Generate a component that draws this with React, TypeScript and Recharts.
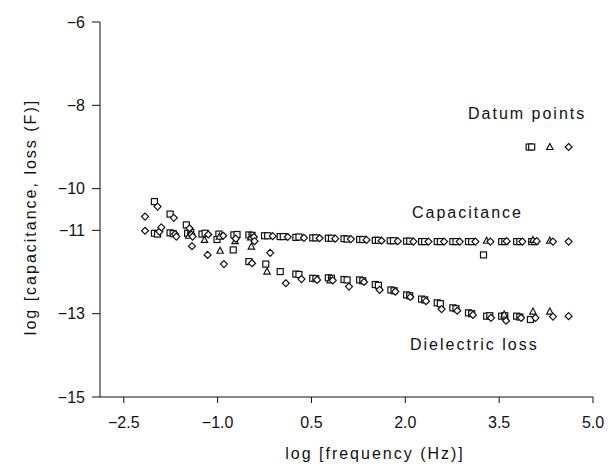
import React from 'react';
import { ScatterChart, Scatter, XAxis, YAxis } from 'recharts';

// log frequency (Hz) vs log capacitance / dielectric loss (F)
const xTicks = [-2.5, -1.0, 0.5, 2.0, 3.5, 5.0];
const yTicks = [-6, -8, -10, -11, -13, -15];

const capSquare: [number, number][] = [
  [-2.01, -11.07], [-1.76, -11.06], [-1.48, -11.07], [-1.25, -11.09], [-0.98, -11.09],
  [-0.74, -11.11], [-0.5, -11.11], [-0.25, -11.13], [0.0, -11.15], [0.25, -11.17],
  [0.52, -11.18], [0.77, -11.19], [1.02, -11.2], [1.27, -11.22], [1.52, -11.24],
  [1.76, -11.25], [2.02, -11.26], [2.26, -11.27], [2.51, -11.27], [2.76, -11.27],
  [3.01, -11.27], [3.25, -11.59], [3.54, -11.27], [3.78, -11.27], [4.02, -11.27],
];
const capSquare2: [number, number][] = [
  [-1.96, -11.09], [-1.71, -11.08], [-1.43, -11.05], [-1.2, -11.07], [-1.01, -11.22],
  [-0.69, -11.1], [-0.45, -11.12], [-0.2, -11.13], [0.05, -11.15], [0.3, -11.16],
  [0.57, -11.18], [0.82, -11.19], [1.07, -11.21], [1.32, -11.22], [1.57, -11.24],
  [1.81, -11.25], [2.07, -11.26], [2.31, -11.27], [2.56, -11.27], [2.81, -11.27],
  [3.06, -11.27], [3.59, -11.27], [3.83, -11.27], [4.07, -11.27],
];
const capTriangle: [number, number][] = [
  [-1.46, -11.13], [-1.21, -11.23], [-0.97, -11.15], [-0.72, -11.26], [-0.47, -11.17],
  [3.3, -11.25], [4.04, -11.23], [4.31, -11.25],
];
const capDiamond: [number, number][] = [
  [-2.16, -11.01], [-1.93, -11.03], [-1.9, -10.93], [-1.68, -11.09], [-1.66, -11.15],
  [-1.42, -11.1], [-1.4, -11.15], [-1.15, -11.1], [-0.91, -11.13], [-0.71, -11.2],
  [-0.42, -11.16], [-0.41, -11.26], [-0.12, -11.14], [0.12, -11.16], [0.38, -11.18],
  [0.63, -11.19], [0.88, -11.2], [1.13, -11.21], [1.38, -11.23], [1.62, -11.25],
  [1.88, -11.26], [2.13, -11.27], [2.37, -11.27], [2.62, -11.27], [2.87, -11.27],
  [3.12, -11.27], [3.36, -11.27], [3.62, -11.26], [3.87, -11.27], [4.1, -11.26],
  [4.36, -11.27], [4.61, -11.27],
];

const lossSquare: [number, number][] = [
  [-2.01, -10.31], [-1.76, -10.61], [-1.5, -10.87], [-0.75, -11.47], [-0.5, -11.75],
  [-0.23, -11.81], [0.0, -11.99], [0.25, -12.05], [0.52, -12.15], [0.77, -12.14],
  [1.02, -12.18], [1.27, -12.19], [1.52, -12.3], [1.77, -12.43], [2.02, -12.55],
  [2.26, -12.65], [2.51, -12.74], [2.76, -12.86], [3.01, -12.98], [3.3, -13.06],
  [3.54, -13.06], [3.78, -13.06], [4.0, -13.14],
];
const lossSquare2: [number, number][] = [
  [0.3, -12.06], [0.57, -12.16], [0.82, -12.15], [1.07, -12.19], [1.32, -12.21],
  [1.57, -12.32], [1.82, -12.45], [2.07, -12.57], [2.31, -12.67], [2.56, -12.76],
  [2.81, -12.88], [3.06, -13.0], [3.35, -13.05], [3.59, -13.05], [3.83, -13.08],
];
const lossTriangle: [number, number][] = [
  [-0.96, -11.49], [-0.46, -11.39], [-0.21, -11.99], [0.8, -12.2], [3.58, -13.02],
  [4.04, -12.95], [4.31, -12.95],
];
const lossDiamond: [number, number][] = [
  [-2.16, -10.67], [-1.96, -10.43], [-1.7, -10.7], [-1.45, -10.95], [-1.41, -11.38],
  [-1.16, -11.59], [-0.9, -11.81], [-0.45, -11.79], [-0.16, -11.54], [0.09, -12.27],
  [0.34, -12.17], [0.59, -12.19], [0.84, -12.2], [1.1, -12.35], [1.34, -12.24],
  [1.59, -12.43], [1.84, -12.47], [2.08, -12.6], [2.33, -12.7], [2.58, -12.89],
  [2.83, -12.93], [3.08, -13.03], [3.37, -13.1], [3.61, -13.17], [3.85, -13.1],
  [4.08, -13.1], [4.36, -13.07], [4.61, -13.06],
];

const datumSquare: [number, number][] = [[3.98, -9], [4.02, -9]];
const datumTriangle: [number, number][] = [[4.31, -9]];
const datumDiamond: [number, number][] = [[4.61, -9]];

const INK = '#111';
const FONT = '"Liberation Sans", Arial, sans-serif';

const pts = (arr: [number, number][]) => arr.map(([x, y]) => ({ x, y }));

const squareShape = (p: any) => (
  <rect x={p.cx - 3} y={p.cy - 3} width={6} height={6} fill="#fff" stroke={INK} strokeWidth={1.2} />
);
const triangleShape = (p: any) => (
  <path
    d={`M${p.cx},${p.cy - 3.5}L${p.cx + 3.2},${p.cy + 2.5}L${p.cx - 3.2},${p.cy + 2.5}Z`}
    fill="#fff"
    stroke={INK}
    strokeWidth={1.2}
  />
);
const diamondShape = (p: any) => (
  <path
    d={`M${p.cx},${p.cy - 3.5}L${p.cx + 3.5},${p.cy}L${p.cx},${p.cy + 3.5}L${p.cx - 3.5},${p.cy}Z`}
    fill="#fff"
    stroke={INK}
    strokeWidth={1.2}
  />
);

const fmtX = (v: number) => (v < 0 ? '\u2212' + Math.abs(v).toFixed(1) : v.toFixed(1));
const fmtY = (v: number) => (v < 0 ? '\u2212' + Math.abs(v) : String(v));

const squares = [...capSquare, ...capSquare2, ...lossSquare, ...lossSquare2, ...datumSquare];
const triangles = [...capTriangle, ...lossTriangle, ...datumTriangle];
const diamonds = [...capDiamond, ...lossDiamond, ...datumDiamond];

const labelStyle = { fontFamily: FONT, fontSize: 16, fill: INK, letterSpacing: 2 };

export default function App() {
  return (
    <div style={{ position: 'absolute', left: 0, top: 0, width: 610, height: 464, background: '#fff' }}>
      <ScatterChart width={610} height={464} margin={{ top: 22, right: 17, bottom: 0, left: 0 }}>
        <XAxis
          type="number"
          dataKey="x"
          domain={[-2.88, 5]}
          ticks={xTicks}
          allowDataOverflow
          height={67}
          tickSize={6}
          tickMargin={14}
          stroke={INK}
          tick={{ fill: INK, fontSize: 16, fontFamily: FONT }}
          tickFormatter={fmtX}
        />
        <YAxis
          type="number"
          dataKey="y"
          domain={[-15, -6]}
          ticks={yTicks}
          allowDataOverflow
          width={100}
          tickSize={8}
          tickMargin={7}
          stroke={INK}
          tick={{ fill: INK, fontSize: 16, fontFamily: FONT }}
          tickFormatter={fmtY}
        />
        <Scatter data={pts(squares)} shape={squareShape} isAnimationActive={false} />
        <Scatter data={pts(triangles)} shape={triangleShape} isAnimationActive={false} />
        <Scatter data={pts(diamonds)} shape={diamondShape} isAnimationActive={false} />
      </ScatterChart>
      <svg width={610} height={464} style={{ position: 'absolute', left: 0, top: 0, pointerEvents: 'none' }}>
        <text x={468} y={119} style={labelStyle}>Datum points</text>
        <text x={412} y={218} style={labelStyle}>Capacitance</text>
        <text x={410} y={350} style={labelStyle}>Dielectric loss</text>
        <text x={375} y={459} textAnchor="middle" style={labelStyle}>log [frequency (Hz)]</text>
        <text
          x={30}
          y={217}
          textAnchor="middle"
          dominantBaseline="central"
          transform="rotate(-90 30 217)"
          style={labelStyle}
        >
          log [capacitance, loss (F)]
        </text>
      </svg>
    </div>
  );
}
